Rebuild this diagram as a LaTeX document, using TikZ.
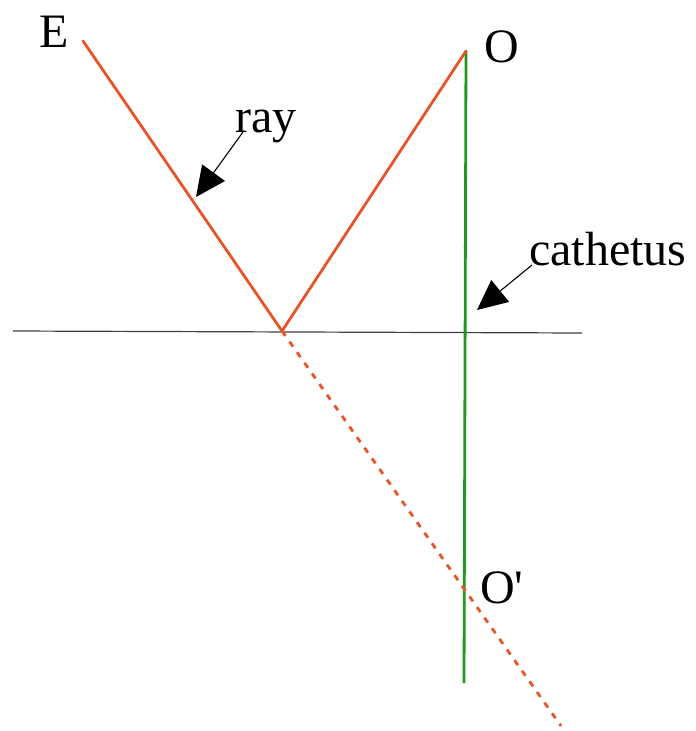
\documentclass[tikz,border=0pt]{standalone}
\usepackage{fontspec}
\setmainfont{Liberation Serif}
\usetikzlibrary{arrows.meta}
\definecolor{rayorange}{RGB}{232,84,42}
\definecolor{cathgreen}{RGB}{34,150,30}
\tikzset{
  raystyle/.style={draw=rayorange, line width=2.8pt},
  cathstyle/.style={draw=cathgreen, line width=2.8pt},
  mirror/.style={draw=black!75, line width=1.2pt},
  pointer/.style={draw=black, line width=1.1pt, -{Triangle[length=30pt,width=28pt]}},
  lbl/.style={anchor=base west, inner sep=0pt, font=\fontsize{48}{52}\selectfont}
}
\begin{document}
\begin{tikzpicture}[x=1pt,y=-1pt]
\useasboundingbox (0,0) rectangle (696,731);
% key points
\coordinate (Estart) at (83,41);
\coordinate (R) at (282,331);
\coordinate (Otop) at (466,51);
\coordinate (Obot) at (464,683);
\coordinate (Dend) at (561,726);
\coordinate (Mleft) at (13,331);
\coordinate (Mright) at (582,333);
% mirror
\draw[mirror] (Mleft) -- (Mright);
% cathetus
\draw[cathstyle] (Otop) -- (Obot);
% rays
\draw[raystyle, line cap=round] (Estart) -- (R) -- (Otop);
\draw[raystyle, dash pattern=on 6pt off 7pt] (R) -- (Dend);
% labels
\node[lbl] (E) at (39,47) {E};
\node[lbl] (O) at (484,62) {O};
\node[lbl] (Op) at (480,603) {O\textquotesingle};
\node[lbl] (ray) at (235,132) {ray};
\node[lbl] (cath) at (529,265) {cathetus};
% pointers
\coordinate (rayfrom) at (243,132);
\coordinate (raytip) at (196,197);
\coordinate (cathfrom) at (532,265);
\coordinate (cathtip) at (477,310);
\draw[pointer] (rayfrom) -- (raytip);
\draw[pointer] (cathfrom) -- (cathtip);
\end{tikzpicture}
\end{document}
